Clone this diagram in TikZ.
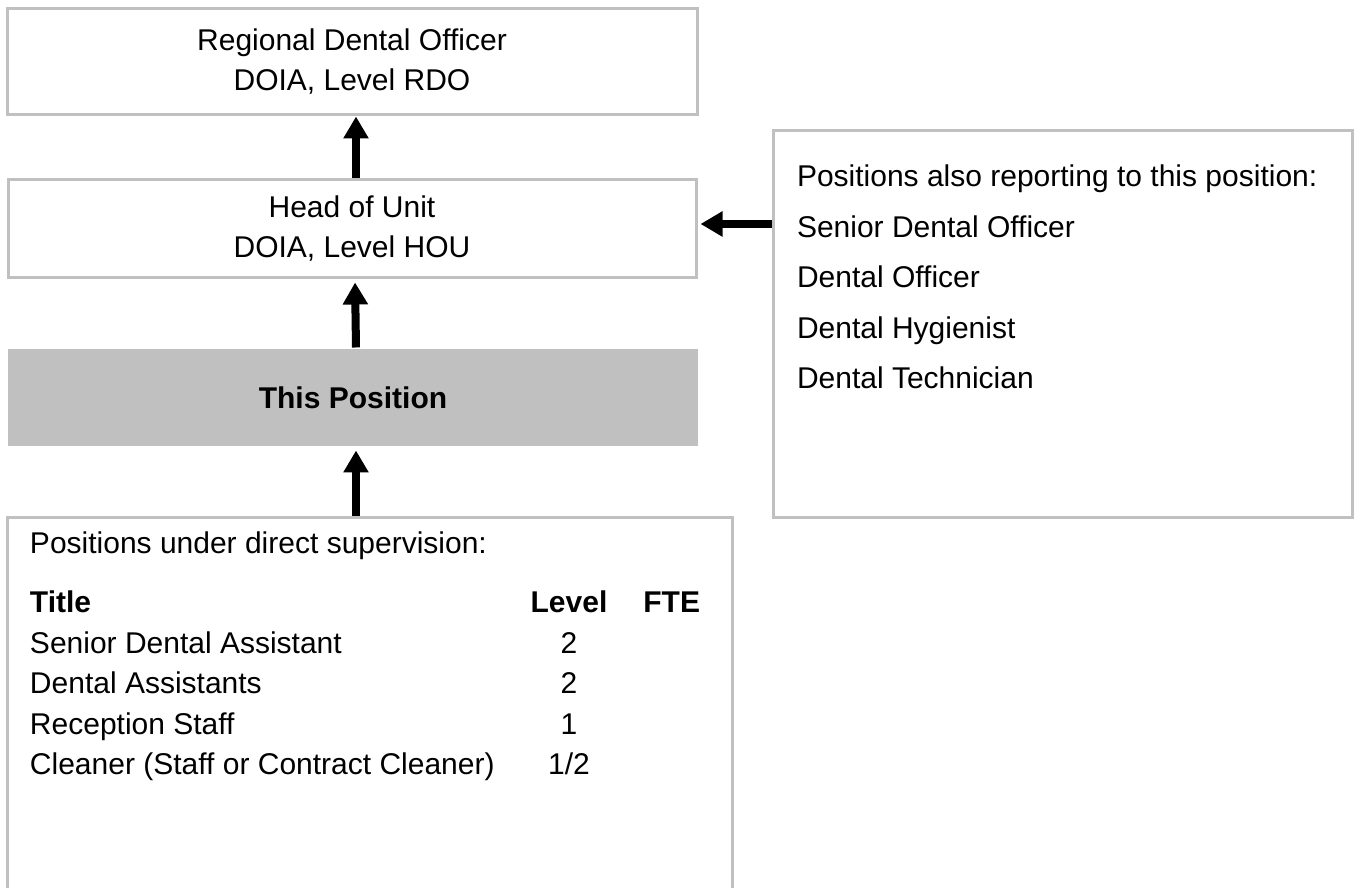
\documentclass[tikz,border=0pt]{standalone}
\usepackage{fontspec}
\setmainfont{Liberation Sans}
\usepackage{tikz}
\usetikzlibrary{arrows.meta, positioning}
\usetikzlibrary{matrix}
\usepackage{xcolor}
\definecolor{boxgray}{HTML}{C0C0C0}

\begin{document}
\begin{tikzpicture}[x=1pt,y=1pt,
    every node/.style={font=\fontsize{30}{40}\selectfont},
    posbox/.style={draw=boxgray, line width=3pt, align=center, inner sep=0pt},
    link/.style={line width=8pt, -{Triangle[length=22pt,width=24pt]}}]
    \useasboundingbox (0,0) rectangle (1361,888);
    \clip (0,0) rectangle (1361,888);

    \node[posbox, minimum width=690pt, minimum height=106pt] (rdo) at (352,826)
        {Regional Dental Officer\\DOIA, Level RDO};
    \node[posbox, minimum width=688pt, minimum height=98pt] (hou) at (352,659)
        {Head of Unit\\DOIA, Level HOU};
    \node[fill=boxgray, minimum width=690pt, minimum height=97pt, outer sep=1.5pt] (this) at (353,490.5)
        {\textbf{This Position}};
    \node[posbox, minimum width=579pt, minimum height=387pt] (others) at (1062.5,563.5) {};
    \node[posbox, minimum width=725pt, minimum height=420pt] (under) at (369.5,160) {};

    % positions also reporting
    \matrix (rep) [matrix of nodes, anchor=north west, inner sep=0pt, outer sep=0pt,
        row sep=22.5pt,
        nodes={anchor=base west, inner sep=0pt, text height=22pt, text depth=6pt}
    ] at (797,723)
    {
        Positions also reporting to this position:\\
        Senior Dental Officer\\
        Dental Officer\\
        Dental Hygienist\\
        Dental Technician\\
    };

    % positions under direct supervision
    \matrix (direct) [matrix of nodes, anchor=north west, inner sep=0pt, outer sep=0pt,
        row sep=12.5pt, column sep=36pt,
        nodes={inner sep=0pt, text height=22pt, text depth=6pt},
        column 1/.style={nodes={anchor=base west}}
    ] at (30,356)
    {
        Positions under direct supervision: & & \\[18.5pt]
        \textbf{Title}                      & \textbf{Level} & \textbf{FTE} \\
        Senior Dental Assistant             & 2   & \\
        Dental Assistants                   & 2   & \\
        Reception Staff                     & 1   & \\
        Cleaner (Staff or Contract Cleaner) & 1/2 & \\
    };

    \coordinate (side) at (0,664);
    \draw[link] ([xshift=4pt]hou.north) -- ([xshift=4pt]rdo.south);
    \draw[link, shorten >=3pt] ([xshift=3pt]this.north) -- ([xshift=3pt]hou.south);
    \draw[link, shorten >=3pt] ([xshift=3pt]this.south |- under.north) -- ([xshift=3pt]this.south);
    \draw[link, shorten >=3pt] (others.west |- side) -- (hou.east |- side);
\end{tikzpicture}
\end{document}
